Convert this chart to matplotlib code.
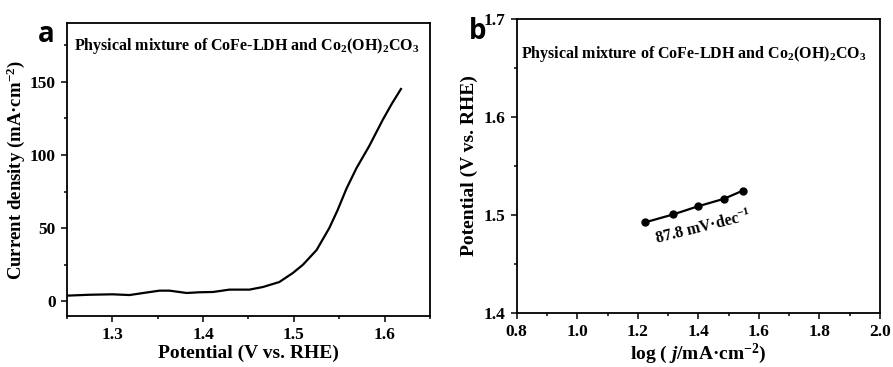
import matplotlib
matplotlib.use("Agg")
import matplotlib.pyplot as plt
from matplotlib.ticker import MultipleLocator

plt.rcParams['font.family'] = 'Liberation Serif'
plt.rcParams['font.weight'] = 'bold'
plt.rcParams['axes.labelweight'] = 'bold'
plt.rcParams['mathtext.fontset'] = 'custom'
plt.rcParams['mathtext.rm'] = 'Liberation Serif:bold'
plt.rcParams['mathtext.it'] = 'Liberation Serif:bold:italic'
plt.rcParams['mathtext.bf'] = 'Liberation Serif:bold'

# panel a: LSV curve
potential = [1.25, 1.275, 1.30, 1.319, 1.334, 1.352, 1.363, 1.382, 1.396, 1.411,
             1.429, 1.451, 1.466, 1.484, 1.499, 1.510, 1.525, 1.539, 1.548,
             1.558, 1.569, 1.583, 1.598, 1.608, 1.618]
current = [3.9, 4.5, 4.8, 4.3, 5.7, 7.3, 7.3, 5.7, 6.2, 6.4,
           8.0, 8.0, 9.8, 13.2, 19.4, 25, 35, 50, 62,
           77, 91, 106, 124, 135, 145]

# panel b: Tafel points
log_j = [1.224, 1.317, 1.398, 1.485, 1.546]
tafel_E = [1.4923, 1.5004, 1.5086, 1.5164, 1.5246]

sample = "Physical mixture of CoFe-LDH and Co$_2$(OH)$_2$CO$_3$"

fig = plt.figure(figsize=(8.93, 3.67), dpi=100)
ax1 = fig.add_axes([0.075, 0.139, 0.4065, 0.798])
ax2 = fig.add_axes([0.5786, 0.148, 0.4068, 0.800])

for ax in (ax1, ax2):
    for s in ax.spines.values():
        s.set_linewidth(1.3)
    ax.tick_params(which='both', direction='out', width=1.1, labelsize=12.5)
    ax.tick_params(which='major', length=4.5)
    ax.tick_params(which='minor', length=2.5)

ax1.plot(potential, current, color='black', lw=1.6)
ax1.set_xlim(1.25, 1.65)
ax1.set_ylim(-10, 190)
ax1.xaxis.set_major_locator(MultipleLocator(0.1))
ax1.xaxis.set_minor_locator(MultipleLocator(0.05))
ax1.yaxis.set_major_locator(MultipleLocator(50))
ax1.yaxis.set_minor_locator(MultipleLocator(25))
ax1.set_yticks([0, 50, 100, 150])
ax1.set_xlabel("Potential (V vs. RHE)", fontsize=14, labelpad=1)
ax1.set_ylabel("Current density (mA·cm$^{-2}$)", fontsize=13.5, labelpad=2)
ax1.text(0.02, 0.955, sample, transform=ax1.transAxes, fontsize=11.5,
         ha='left', va='top')

ax2.plot(log_j, tafel_E, color='black', lw=1.6, marker='o', ms=5)
ax2.set_xlim(0.8, 2.0)
ax2.set_ylim(1.4, 1.7)
ax2.xaxis.set_major_locator(MultipleLocator(0.2))
ax2.xaxis.set_minor_locator(MultipleLocator(0.1))
ax2.yaxis.set_major_locator(MultipleLocator(0.1))
ax2.yaxis.set_minor_locator(MultipleLocator(0.05))
ax2.set_xlabel("log ( $j$/mA·cm$^{-2}$)", fontsize=14, labelpad=1)
ax2.set_ylabel("Potential (V vs. RHE)", fontsize=14, labelpad=4)
ax2.text(0.013, 0.915, sample, transform=ax2.transAxes, fontsize=11.5,
         ha='left', va='top')
ax2.text(1.417, 1.487, "87.8 mV·dec$^{-1}$", fontsize=11.5, rotation=14,
         ha='center', va='center')

fig.text(0.042, 0.885, "a", fontsize=20, family='Open Sans', weight='bold')
fig.text(0.525, 0.895, "b", fontsize=20, family='Open Sans', weight='bold')

fig.savefig("out.png", dpi=100)
